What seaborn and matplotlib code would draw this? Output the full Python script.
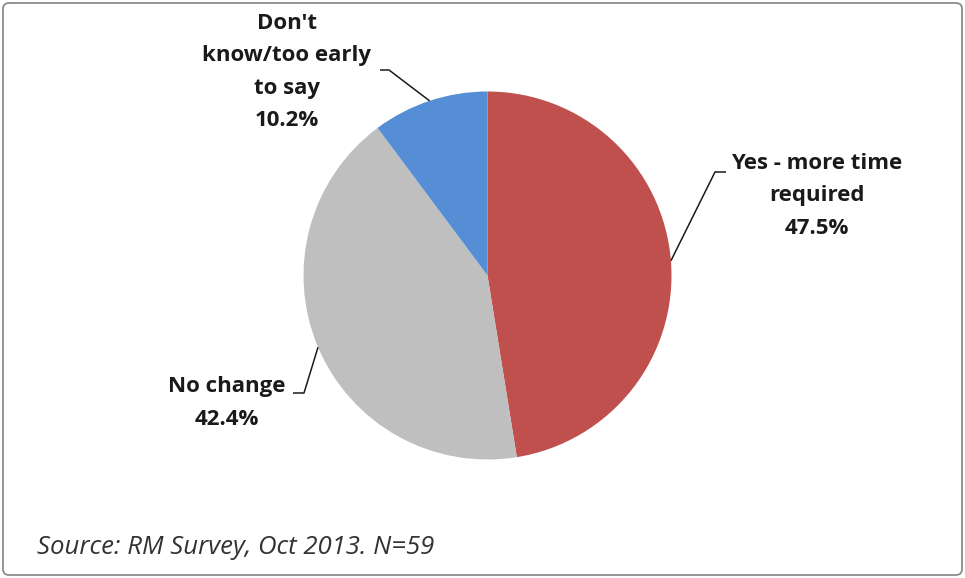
import numpy as np
import matplotlib
matplotlib.use("Agg")
import matplotlib.pyplot as plt
import seaborn as sns
from matplotlib.patches import FancyBboxPatch

# data
categories = ["Yes - more time\nrequired", "No change", "Don't\nknow/too early\nto say"]
shares = [47.5, 42.4, 10.2]
colors = ["#C0504D", "#BFBFBF", "#558ED5"]
source_note = "Source: RM Survey, Oct 2013. N=59"

sns.set_theme(style="white")
plt.rcParams["font.family"] = ["Open Sans", "DejaVu Sans"]

W, H = 965, 578
fig = plt.figure(figsize=(W / 100, H / 100), dpi=100)
ax = fig.add_axes([0, 0, 1, 1])

cx, cy, r = 487.5, H - 275.5, 184
wedges, _ = ax.pie(shares, colors=sns.color_palette(colors), startangle=90,
                   counterclock=False, center=(cx, cy), radius=r,
                   wedgeprops=dict(linewidth=0))
ax.set_xlim(0, W)
ax.set_ylim(0, H)
ax.set_aspect("equal")
ax.axis("off")

# label layout: text centre and leader elbow points (pixels from top-left)
label_pos = [(817, 196), (227, 403), (287, 72)]
elbows = [[(715, 172), (726, 172)], [(304, 393), (293, 393)], [(389, 70), (380, 70)]]

for w, lab, val, pos, elb in zip(wedges, categories, shares, label_pos, elbows):
    mid = np.deg2rad((w.theta1 + w.theta2) / 2)
    start = (cx + r * np.cos(mid), cy + r * np.sin(mid))
    pts = [start] + [(x, H - y) for x, y in elb]
    xs, ys = zip(*pts)
    ax.plot(xs, ys, color="#1a1a1a", lw=1.1, solid_capstyle="butt")
    ax.text(pos[0], H - pos[1], f"{lab}\n{val:.1f}%", ha="center", va="center",
            fontsize=16, fontweight="bold", color="#1a1a1a", linespacing=1.72)

ax.text(37, H - 548, source_note, ha="left", va="center", fontsize=18.5,
        fontstyle="italic", color="#333333")

border = FancyBboxPatch((3, 3), W - 6, H - 6, boxstyle="round,pad=0,rounding_size=6",
                        fill=False, edgecolor="#8c8c8c", lw=1.3, clip_on=False)
ax.add_patch(border)

fig.savefig("out.png", dpi=100, facecolor="white")
